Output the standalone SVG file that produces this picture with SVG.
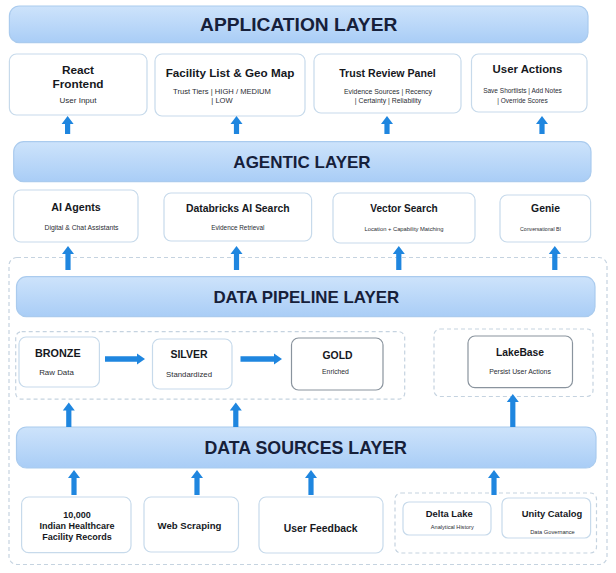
<svg xmlns="http://www.w3.org/2000/svg" width="616" height="573" viewBox="0 0 616 573">
<defs>
<linearGradient id="lg" x1="0" y1="0" x2="0" y2="1">
<stop offset="0" stop-color="#cde3fb"/>
<stop offset="1" stop-color="#a9cdf6"/>
</linearGradient>
</defs>
<style>
.bar{fill:url(#lg);stroke:#aacbee;stroke-width:1.2}
.box{fill:#fff;stroke:#c7daeb;stroke-width:1.2}
.dark{fill:#fff;stroke:#8a949e;stroke-width:1.2}
.dash{fill:none;stroke:#c5d3e0;stroke-width:1.2;stroke-dasharray:4 3}
.lt{font-family:"Liberation Sans",Arial,sans-serif;font-weight:bold;fill:#16203a;text-anchor:middle}
.t{font-family:"Liberation Sans",Arial,sans-serif;font-weight:bold;fill:#16181d;text-anchor:middle}
.s{font-family:"Liberation Sans",Arial,sans-serif;fill:#2a2d33;text-anchor:middle}
.arr{fill:#1f86df}
</style>
<rect width="616" height="573" fill="#fff"/>

<g id="containers">
<rect class="dash" x="9" y="257.5" width="598" height="307" rx="8"/>
<rect class="dash" x="15.7" y="331.7" width="389" height="67.5" rx="6"/>
<rect class="dash" x="434" y="329" width="159" height="67.5" rx="6"/>
<rect class="dash" x="395" y="493" width="201.5" height="60" rx="6"/>
</g>

<g id="application-layer">
<rect class="bar" x="9.4" y="6" width="578.6" height="36.7" rx="10"/>
<text class="lt" x="298.7" y="31.3" font-size="19.2">APPLICATION LAYER</text>
</g>
<g id="react-frontend">
<rect class="box" x="9.4" y="54" width="137.6" height="61" rx="7"/>
<text class="t" x="78" y="74" font-size="11.8">React</text>
<text class="t" x="78" y="88" font-size="11.8">Frontend</text>
<text class="s" x="78" y="103" font-size="8">User Input</text>
</g>
<g id="facility-list">
<rect class="box" x="155" y="54" width="150" height="62" rx="7"/>
<text class="t" x="230" y="77" font-size="11.7">Facility List &amp; Geo Map</text>
<text class="s" x="222" y="93.5" font-size="7.6">Trust Tiers | HIGH / MEDIUM</text>
<text class="s" x="222" y="103" font-size="7.6">| LOW</text>
</g>
<g id="trust-review">
<rect class="box" x="314" y="54" width="147" height="59" rx="7"/>
<text class="t" x="387.5" y="76.5" font-size="10.6">Trust Review Panel</text>
<text class="s" x="388" y="94.3" font-size="6.9">Evidence Sources | Recency</text>
<text class="s" x="388" y="103" font-size="6.9">| Certainty | Reliability</text>
</g>
<g id="user-actions">
<rect class="box" x="471.5" y="54" width="115.5" height="58" rx="7"/>
<text class="t" x="527.5" y="72.5" font-size="11.4">User Actions</text>
<text class="s" x="522.5" y="93" font-size="6.5">Save Shortlists | Add Notes</text>
<text class="s" x="522.5" y="102.5" font-size="6.5">| Override Scores</text>
</g>

<g id="agentic-layer">
<rect class="bar" x="13.7" y="141.7" width="577.3" height="40" rx="10"/>
<text class="lt" x="302" y="167.7" font-size="17">AGENTIC LAYER</text>
</g>
<g id="ai-agents">
<rect class="box" x="13.7" y="190" width="124.3" height="52" rx="7"/>
<text class="t" x="76" y="211" font-size="10.7">AI Agents</text>
<text class="s" x="81.5" y="229.5" font-size="6.8">Digital &amp; Chat Assistants</text>
</g>
<g id="databricks-ai-search">
<rect class="box" x="164" y="193" width="147.6" height="48" rx="7"/>
<text class="t" x="237.8" y="211.5" font-size="10.4">Databricks AI Search</text>
<text class="s" x="237.8" y="229.5" font-size="6.4">Evidence Retrieval</text>
</g>
<g id="vector-search">
<rect class="box" x="333" y="193" width="142" height="50" rx="7"/>
<text class="t" x="404" y="212.3" font-size="10.1">Vector Search</text>
<text class="s" x="404" y="231" font-size="5.8">Location + Capability Matching</text>
</g>
<g id="genie">
<rect class="box" x="500" y="195" width="90.6" height="47" rx="7"/>
<text class="t" x="545.5" y="212.3" font-size="10.4">Genie</text>
<text class="s" x="540.5" y="231" font-size="5.2">Conversational BI</text>
</g>

<g id="data-pipeline-layer">
<rect class="bar" x="16.5" y="276.7" width="578.5" height="40" rx="10"/>
<text class="lt" x="306.3" y="302.7" font-size="16.9">DATA PIPELINE LAYER</text>
</g>
<g id="bronze">
<rect class="box" x="19" y="337" width="80.4" height="50" rx="7"/>
<text class="t" x="57.8" y="357" font-size="10.8">BRONZE</text>
<text class="s" x="56.5" y="375" font-size="7.9">Raw Data</text>
</g>
<g id="silver">
<rect class="box" x="152.5" y="339" width="79.5" height="50" rx="7"/>
<text class="t" x="189" y="358" font-size="10.5">SILVER</text>
<text class="s" x="189" y="377" font-size="7.8">Standardized</text>
</g>
<g id="gold">
<rect class="dark" x="291.5" y="338" width="91.5" height="52" rx="7"/>
<text class="t" x="337.5" y="359" font-size="10.4">GOLD</text>
<text class="s" x="335.5" y="374" font-size="6.8">Enriched</text>
</g>
<g id="lakebase">
<rect class="dark" x="468" y="336" width="104.5" height="51.7" rx="7"/>
<text class="t" x="520" y="356" font-size="10.3">LakeBase</text>
<text class="s" x="520" y="374" font-size="6.9">Persist User Actions</text>
</g>

<g id="data-sources-layer">
<rect class="bar" x="16.5" y="427" width="579.5" height="41" rx="10"/>
<text class="lt" x="305.7" y="454" font-size="17.8">DATA SOURCES LAYER</text>
</g>
<g id="facility-records">
<rect class="box" x="21.6" y="497" width="109.4" height="55.7" rx="7"/>
<text class="t" x="77" y="517.5" font-size="9">10,000</text>
<text class="t" x="77" y="529" font-size="9">Indian Healthcare</text>
<text class="t" x="77" y="540.3" font-size="9">Facility Records</text>
</g>
<g id="web-scraping">
<rect class="box" x="144" y="497" width="94.5" height="55" rx="7"/>
<text class="t" x="189.5" y="529" font-size="9.6">Web Scraping</text>
</g>
<g id="user-feedback">
<rect class="box" x="259" y="497" width="124" height="56" rx="7"/>
<text class="t" x="320.7" y="531.5" font-size="10.4">User Feedback</text>
</g>
<g id="delta-lake">
<rect class="box" x="403" y="502" width="88" height="33" rx="6"/>
<text class="t" x="449.3" y="516.5" font-size="9.4">Delta Lake</text>
<text class="s" x="452.3" y="529" font-size="5.6">Analytical History</text>
</g>
<g id="unity-catalog">
<rect class="box" x="502" y="498" width="88.6" height="40" rx="6"/>
<text class="t" x="552" y="516.5" font-size="9.4">Unity Catalog</text>
<text class="s" x="552.5" y="533.7" font-size="5.7">Data Governance</text>
</g>

<g id="connectors" class="arr">
<path d="M67.6 116L73.6 124L70.2 124L70.2 134L65 134L65 124L61.6 124Z"/>
<path d="M236.5 116L242.5 124L239.1 124L239.1 134L233.9 134L233.9 124L230.5 124Z"/>
<path d="M387 116L393 124L389.6 124L389.6 134L384.4 134L384.4 124L381 124Z"/>
<path d="M542 116L548 124L544.6 124L544.6 134L539.4 134L539.4 124L536 124Z"/>
<path d="M68 246L74 254L70.6 254L70.6 270L65.4 270L65.4 254L62 254Z"/>
<path d="M236.5 246L242.5 254L239.1 254L239.1 270L233.9 270L233.9 254L230.5 254Z"/>
<path d="M398.8 246L404.8 254L401.4 254L401.4 270L396.2 270L396.2 254L392.8 254Z"/>
<path d="M554.8 246L560.8 254L557.4 254L557.4 270L552.2 270L552.2 254L548.8 254Z"/>
<path d="M145 359L137 353.5L137 356.3L105 356.3L105 361.7L137 361.7L137 364.5Z"/>
<path d="M282 359L274 353.5L274 356.3L240.5 356.3L240.5 361.7L274 361.7L274 364.5Z"/>
<path d="M68.8 402.5L74.8 410.5L71.4 410.5L71.4 427L66.2 427L66.2 410.5L62.8 410.5Z"/>
<path d="M235.8 402.5L241.8 410.5L238.4 410.5L238.4 427L233.2 427L233.2 410.5L229.8 410.5Z"/>
<path d="M512.8 394L518.8 402L515.4 402L515.4 427L510.2 427L510.2 402L506.8 402Z"/>
<path d="M74 470L80 478L76.6 478L76.6 495L71.4 495L71.4 478L68 478Z"/>
<path d="M197 470L203 478L199.6 478L199.6 495L194.4 495L194.4 478L191 478Z"/>
<path d="M311 470L317 478L313.6 478L313.6 495L308.4 495L308.4 478L305 478Z"/>
<path d="M494 470L500 478L496.6 478L496.6 495L491.4 495L491.4 478L488 478Z"/>
</g>
</svg>
